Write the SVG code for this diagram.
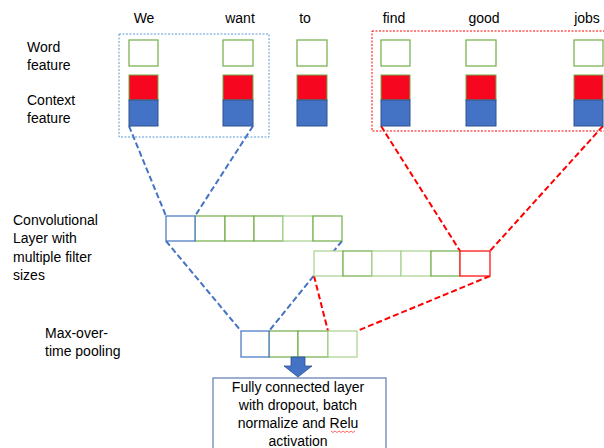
<svg xmlns="http://www.w3.org/2000/svg" width="604" height="448" viewBox="0 0 604 448">
<style>
text{font-family:"Liberation Sans",Arial,sans-serif;font-size:14px;fill:#000}
.w{text-anchor:middle}
.g{fill:#fff;stroke:#70ad47;stroke-width:1.2}
.gl{fill:#fff;stroke:#a9d18e;stroke-width:1.2}
.r{fill:#f7061f;stroke:#70ad47;stroke-width:1}
.b{fill:#4472c4;stroke:#2f528f;stroke-width:1}
.bc{fill:#fff;stroke:#4472c4;stroke-width:1.2}
.rc{fill:#fff;stroke:#ff0000;stroke-width:1.2}
.bd{fill:none;stroke:#4472c4;stroke-width:2;stroke-dasharray:6,3}
.rd{fill:none;stroke:#ff0000;stroke-width:2;stroke-dasharray:6,3}
</style>
<g id="labels">
<text x="27" y="52">Word</text>
<text x="27" y="70">feature</text>
<text x="27" y="105">Context</text>
<text x="27" y="123">feature</text>
<text x="13" y="225">Convolutional</text>
<text x="13" y="243">Layer with</text>
<text x="13" y="262">multiple filter</text>
<text x="13" y="280">sizes</text>
<text x="45" y="338">Max-over-</text>
<text x="45" y="356">time pooling</text>
</g>
<g id="words">
<text class="w" x="144" y="23">We</text>
<text class="w" x="240" y="23">want</text>
<text class="w" x="305" y="23">to</text>
<text class="w" x="394" y="23">find</text>
<text class="w" x="484" y="23">good</text>
<text class="w" x="587" y="23">jobs</text>
</g>
<g id="connectors">
<path class="bd" d="M129,126 L166,216 M253,126 L195,216 M166,241 L241,331 M342,241 L269,331"/>
<path class="rd" d="M381,126 L460,251 M603,126 L490,251 M314,276 L328,331 M490,276 L357,331"/>
</g>
<g id="window-blue"><rect x="119" y="34" width="150" height="103" fill="none" stroke="#5b9bd5" stroke-width="1" stroke-dasharray="2,1.5"/></g>
<g id="window-red"><rect x="372" y="31" width="240" height="100" fill="none" stroke="#ff0000" stroke-width="1" stroke-dasharray="2,1.5"/></g>
<g id="col-we"><rect class="g" x="129" y="40" width="29" height="26"/><rect class="r" x="129" y="75" width="29" height="25"/><rect class="b" x="129" y="100" width="29" height="26"/></g>
<g id="col-want"><rect class="g" x="223" y="40" width="30" height="26"/><rect class="r" x="223" y="75" width="30" height="25"/><rect class="b" x="223" y="100" width="30" height="26"/></g>
<g id="col-to"><rect class="g" x="297" y="40" width="30" height="26"/><rect class="r" x="297" y="75" width="30" height="25"/><rect class="b" x="297" y="100" width="30" height="26"/></g>
<g id="col-find"><rect class="g" x="381" y="40" width="29" height="26"/><rect class="r" x="381" y="75" width="29" height="25"/><rect class="b" x="381" y="100" width="29" height="26"/></g>
<g id="col-good"><rect class="g" x="466" y="40" width="30" height="26"/><rect class="r" x="466" y="75" width="30" height="25"/><rect class="b" x="466" y="100" width="30" height="26"/></g>
<g id="col-jobs"><rect class="g" x="574" y="40" width="29" height="26"/><rect class="r" x="574" y="75" width="29" height="25"/><rect class="b" x="574" y="100" width="29" height="26"/></g>
<g id="conv-row1">
<rect class="g" x="195" y="216" width="30" height="25"/>
<rect class="g" x="225" y="216" width="29" height="25"/>
<rect class="g" x="254" y="216" width="29" height="25"/>
<rect class="gl" x="283" y="216" width="30" height="25"/>
<rect class="g" x="313" y="216" width="29" height="25"/>
<rect class="bc" x="166" y="216" width="29" height="25"/>
</g>
<g id="conv-row2">
<rect class="gl" x="314" y="251" width="29" height="25"/>
<rect class="g" x="343" y="251" width="29" height="25"/>
<rect class="gl" x="372" y="251" width="29" height="25"/>
<rect class="gl" x="401" y="251" width="30" height="25"/>
<rect class="g" x="431" y="251" width="29" height="25"/>
<rect class="rc" x="460" y="251" width="30" height="25"/>
</g>
<g id="pooling">
<rect class="g" x="269" y="331" width="29" height="26"/>
<rect class="g" x="298" y="331" width="30" height="26"/>
<rect class="gl" x="328" y="331" width="29" height="26"/>
<rect class="bc" x="241" y="331" width="28" height="26"/>
</g>
<g id="arrow"><polygon points="291,357 305,357 305,366 312,366 298,377 284,366 291,366" fill="#4472c4" stroke="#2f528f" stroke-width="0.8"/></g>
<g id="fc">
<rect x="213" y="378" width="173" height="80" fill="#fff" stroke="#6a84b4" stroke-width="1.3"/>
<text class="w" x="298" y="392">Fully connected layer</text>
<text class="w" x="298" y="410">with dropout, batch</text>
<text class="w" x="298" y="428">normalize and Relu</text>
<text class="w" x="298" y="446">activation</text>
<path d="M331,431 l2,1.5 l2,-1.5 l2,1.5 l2,-1.5 l2,1.5 l2,-1.5 l2,1.5 l2,-1.5 l2,1.5 l2,-1.5 l2,1.5 l2,-1.5" fill="none" stroke="#ff0000" stroke-width="0.6"/>
</g>
</svg>
